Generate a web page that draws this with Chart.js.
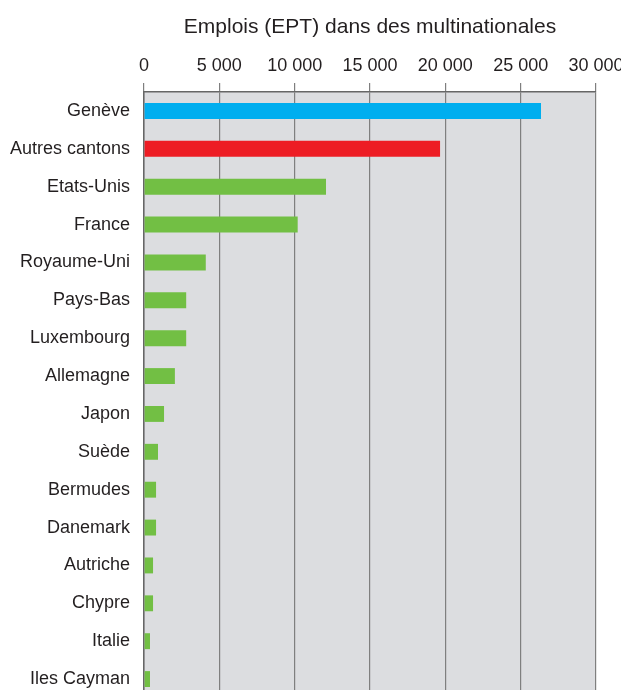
<!DOCTYPE html>
<html lang="fr">
<head>
  <meta charset="UTF-8">
  <title>Emplois (EPT) dans des multinationales</title>
  <script src="https://cdn.jsdelivr.net/npm/chart.js"></script>
  <style>
    html, body { margin: 0; padding: 0; background: #fff; overflow: hidden; }
    #wrap { width: 621px; height: 698px; }
  </style>
</head>
<body>

<div id="wrap">
  <canvas id="grafik"></canvas>
</div>

<script>
  // donnees
  const pays = ['Genève', 'Autres cantons', 'Etats-Unis', 'France', 'Royaume-Uni', 'Pays-Bas',
    'Luxembourg', 'Allemagne', 'Japon', 'Suède', 'Bermudes', 'Danemark', 'Autriche',
    'Chypre', 'Italie', 'Iles Cayman'];
  const emplois = [26350, 19650, 12080, 10200, 4100, 2800, 2800, 2050, 1330, 930, 800, 800,
    600, 600, 400, 400];
  const ticksX = ['0', '5 000', '10 000', '15 000', '20 000', '25 000', '30 000'];
  const titre = 'Emplois (EPT) dans des multinationales';

  const couleurs = pays.map((p, i) => i === 0 ? '#00aeef' : (i === 1 ? '#ed1c24' : '#72bf44'));
  const texte = '#231f20';
  const police = 'Arial, "Liberation Sans", sans-serif';

  // fond gris de la zone du graphique
  const fondGris = {
    id: 'fondGris',
    beforeDraw(chart) {
      const a = chart.chartArea;
      const ctx = chart.ctx;
      ctx.save();
      ctx.fillStyle = '#dcdde0';
      ctx.fillRect(a.left, a.top, a.right - a.left, a.bottom - a.top);
      ctx.restore();
    }
  };

  const ctx = document.getElementById('grafik').getContext('2d');
  new Chart(ctx, {
    type: 'bar',
    data: {
      labels: pays,
      datasets: [{
        data: emplois,
        backgroundColor: couleurs,
        borderWidth: 0,
        barPercentage: 0.42,
        categoryPercentage: 1
      }]
    },
    options: {
      indexAxis: 'y',
      responsive: true,
      maintainAspectRatio: false,
      animation: false,
      layout: { padding: { left: 0, right: 25, top: 0, bottom: 0 } },
      plugins: { legend: { display: false }, tooltip: { enabled: false } },
      scales: {
        x: {
          position: 'top',
          min: 0,
          max: 30000,
          ticks: {
            stepSize: 5000,
            maxRotation: 0,
            autoSkip: false,
            padding: 6,
            color: texte,
            font: { family: police, size: 18 },
            callback: (v) => ticksX[Math.round(v / 5000)]
          },
          grid: { color: '#7f7f7f', lineWidth: 1.2, tickLength: 9, drawTicks: true },
          border: { display: true, color: '#666666', width: 1.5 },
          title: {
            display: true,
            text: titre,
            color: texte,
            font: { family: police, size: 21 },
            padding: { top: 15, bottom: 0 }
          },
          afterFit(scale) {
            scale.height = 92;
            scale.paddingLeft = 0;
            scale.paddingRight = 0;
          }
        },
        y: {
          ticks: {
            padding: 14,
            color: texte,
            font: { family: police, size: 18 }
          },
          grid: { drawOnChartArea: false, drawTicks: false },
          border: { display: true, color: '#666666', width: 1.5 },
          afterFit(scale) {
            scale.width = 144;
            scale.paddingTop = 0;
            scale.paddingBottom = 0;
          }
        }
      }
    },
    plugins: [fondGris]
  });
</script>

</body>
</html>
